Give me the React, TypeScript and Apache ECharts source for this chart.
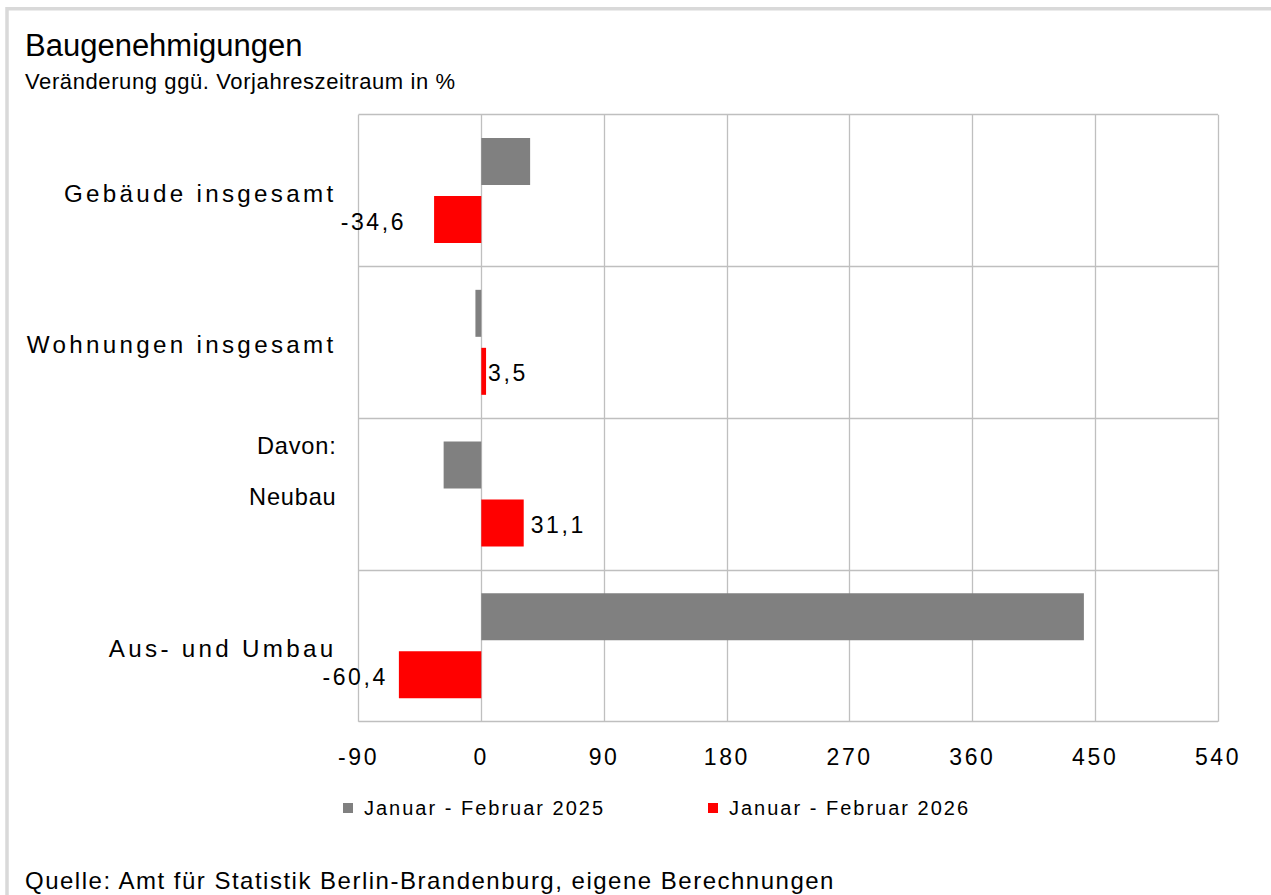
import React, { useEffect, useRef } from 'react';
import * as echarts from 'echarts';

const categories = ['Gebäude insgesamt', 'Wohnungen insgesamt', 'Davon:\nNeubau', 'Aus- und Umbau'];
const seriesNames = ['Januar - Februar 2025', 'Januar - Februar 2026'];
const values2025 = [35.8, -4.3, -27.6, 441.7];
const values2026 = [-34.6, 3.5, 31.1, -60.4];
const xMin = -90;
const xMax = 540;
const xInterval = 90;
const titleText = 'Baugenehmigungen';
const subtitleText = 'Veränderung ggü. Vorjahreszeitraum in %';
const sourceText = 'Quelle: Amt für Statistik Berlin-Brandenburg, eigene Berechnungen';

// layout constants (label distances from the bar ends, in px)
const labelGaps = [28, 2, 7, 11];

const FONT = 'Liberation Sans, Arial, sans-serif';
const GRID_COLOR = '#bfbfbf';

const css = `
.chart text[style*="24.2px"] { letter-spacing: 3.3px; }
.chart text[style*="23.6px"] { letter-spacing: 0.8px; }
.chart text[style*="23px"] { letter-spacing: 2.6px; }
.chart text[style*="20px"] { letter-spacing: 2px; }
.chart text[style*="24px"] { letter-spacing: 1.5px; }
.chart text[style*="22px"] { letter-spacing: 0.6px; }
`;

export default function App() {
  const ref = useRef<HTMLDivElement>(null);

  useEffect(() => {
    if (!ref.current) return;
    const chart = echarts.init(ref.current, null, { renderer: 'svg' });
    const fmt = (v: number) => v.toFixed(1).replace('.', ',');

    const legendCommon = {
      orient: 'horizontal',
      top: 798,
      padding: 0,
      itemWidth: 10,
      itemHeight: 10,
      icon: 'rect',
      selectedMode: false,
      textStyle: { fontSize: 20, fontFamily: FONT, color: '#000', padding: [0, 0, 0, 6] },
    };

    chart.setOption({
      animation: false,
      backgroundColor: '#ffffff',
      textStyle: { fontFamily: FONT },
      title: [
        { text: titleText, left: 25, top: 30, padding: 0, textStyle: { fontSize: 31, fontWeight: 'normal', color: '#000', fontFamily: FONT } },
        { text: subtitleText, left: 25, top: 70, padding: 0, textStyle: { fontSize: 22, fontWeight: 'normal', color: '#000', fontFamily: FONT } },
        { text: sourceText, left: 25, top: 868, padding: 0, textStyle: { fontSize: 24, fontWeight: 'normal', color: '#000', fontFamily: FONT } },
      ],
      graphic: [
        {
          type: 'rect',
          silent: true,
          shape: { x: 7, y: 8.7, width: 1400, height: 1000 },
          style: { fill: 'none', stroke: '#d9d9d9', lineWidth: 3.5 },
        },
      ],
      legend: [
        { ...legendCommon, data: [seriesNames[0]], left: 343 },
        { ...legendCommon, data: [seriesNames[1]], left: 708 },
      ],
      grid: { left: 358.5, right: 53, top: 114.7, bottom: 173.3, containLabel: false },
      xAxis: {
        type: 'value',
        min: xMin,
        max: xMax,
        interval: xInterval,
        axisLine: { show: false },
        axisTick: { show: false },
        splitLine: { show: true, lineStyle: { color: GRID_COLOR, width: 1.3 } },
        axisLabel: { fontSize: 23, color: '#000', fontFamily: FONT, margin: 24 },
      },
      yAxis: {
        type: 'category',
        inverse: true,
        data: categories,
        axisLine: { show: false },
        axisTick: { show: false },
        splitLine: { show: true, interval: 0, lineStyle: { color: GRID_COLOR, width: 1.3 } },
        axisLabel: {
          interval: 0,
          fontSize: 24.2,
          color: '#000',
          fontFamily: FONT,
          margin: 22,
          align: 'right',
          padding: [5, 0, 0, 0],
          formatter: (v: string) => {
            if (v.indexOf('\n') < 0) return v;
            const lines = v.split('\n').concat(['\u00a0']);
            return lines.map((l) => `{s|${l}}`).join('\n');
          },
          rich: {
            s: { fontSize: 23.6, lineHeight: 51, fontFamily: FONT, color: '#000', align: 'right' },
          },
        },
      },
      series: [
        {
          name: seriesNames[0],
          type: 'bar',
          data: values2025,
          barWidth: 47,
          barGap: '23.4%',
          itemStyle: { color: '#808080' },
          label: { show: false },
        },
        {
          name: seriesNames[1],
          type: 'bar',
          barWidth: 47,
          barGap: '23.4%',
          itemStyle: { color: '#ff0000' },
          data: values2026.map((v, i) => ({
            value: v,
            label: { position: v < 0 ? 'left' : 'right', distance: labelGaps[i] },
          })),
          label: {
            show: true,
            fontSize: 23,
            color: '#000',
            fontFamily: FONT,
            offset: [0, 2],
            formatter: (p: any) => fmt(p.value),
          },
        },
      ],
    });

    return () => chart.dispose();
  }, []);

  return (
    <>
      <style>{css}</style>
      <div
        ref={ref}
        className="chart"
        style={{ position: 'fixed', left: 0, top: 0, width: 1271, height: 895, background: '#fff' }}
      />
    </>
  );
}
